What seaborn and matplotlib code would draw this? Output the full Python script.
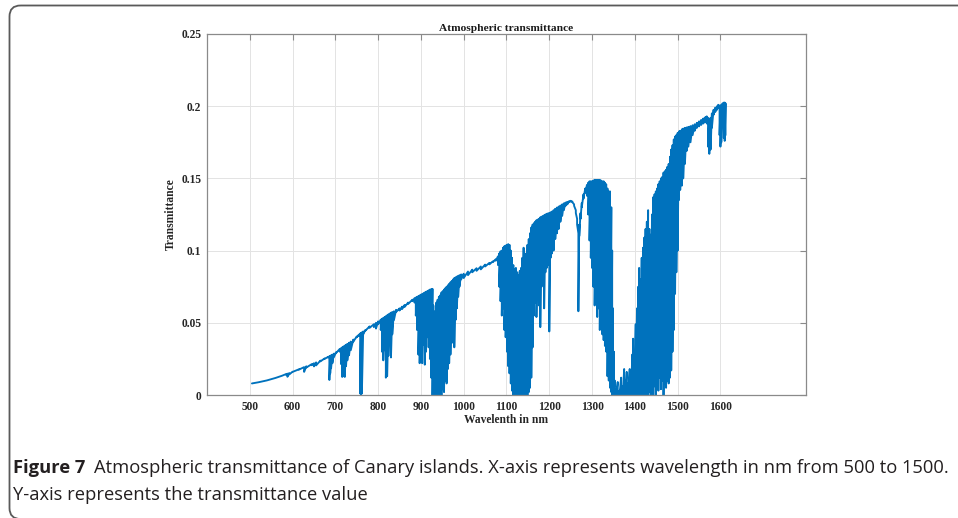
import numpy as np
import pandas as pd
import matplotlib
matplotlib.use("Agg")
import matplotlib.pyplot as plt
import seaborn as sns
from matplotlib.patches import FancyBboxPatch
from matplotlib import font_manager

# ---------------- data ----------------
# visible / near-IR part (continuum with O2 and H2O lines)
wl_vis = [505, 520, 540, 560, 575, 585, 588, 592, 600, 615, 627, 632, 645, 650, 655,
          665, 675, 683, 686, 688, 690, 693, 697, 702, 710, 713, 716, 719, 722, 725,
          728, 732, 736, 742, 750, 755, 758, 760, 762, 765, 770, 780, 790, 795, 800,
          806, 809, 812, 815, 818, 821, 824, 827, 830, 833, 837, 842, 850, 856, 862,
          870, 880]
hi_vis = [.0080, .0088, .0101, .0118, .0133, .0145, .0148, .0152, .0161, .0178, .0193, .0199, .0214, .0220, .0226,
          .0238, .0253, .0264, .0268, .0271, .0275, .0280, .0287, .0297, .0318, .0324, .0330, .0336, .0342, .0348,
          .0354, .0362, .0370, .0384, .0405, .0418, .0426, .0430, .0434, .0440, .0450, .0475, .0490, .0500, .0510,
          .0522, .0528, .0534, .0540, .0546, .0552, .0558, .0564, .0570, .0575, .0580, .0590, .0600, .0612, .0624,
          .0640, .0660]
lo_vis = [.0080, .0088, .0101, .0118, .0133, .0140, .0126, .0142, .0160, .0176, .0160, .0190, .0206, .0198, .0205,
          .0233, .0250, .0260, .0104, .0150, .0185, .0220, .0265, .0292, .0300, .0215, .0125, .0130, .0125, .0200,
          .0240, .0275, .0310, .0370, .0400, .0410, .0010, .0005, .0010, .0420, .0445, .0465, .0470, .0460, .0490,
          .0450, .0300, .0240, .0310, .0120, .0130, .0270, .0360, .0260, .0420, .0520, .0575, .0585, .0595, .0610,
          .0630, .0650]

# 940 nm water band and the continuum up to 1075 nm
wl_940 = [885, 888, 891, 894, 897, 900, 903, 906, 909, 912, 915, 918, 921, 924, 927,
          929, 931, 933, 936, 939, 942, 945, 948, 951, 954, 957, 960, 963, 966, 969,
          972, 975, 978, 981, 984, 987, 990, 994, 1000, 1010, 1020, 1030, 1040, 1050, 1060,
          1068, 1075]
hi_940 = [.0670, .0675, .0680, .0685, .0690, .0695, .0700, .0705, .0710, .0715, .0720, .0725, .0730, .0733, .0735,
          .0620, .0520, .0580, .0640, .0660, .0680, .0690, .0710, .0720, .0730, .0740, .0750, .0760, .0770, .0780,
          .0790, .0800, .0810, .0815, .0820, .0825, .0830, .0835, .0840, .0855, .0868, .0878, .0890, .0903, .0915,
          .0925, .0940]
lo_940 = [.0640, .0550, .0450, .0280, .0220, .0300, .0220, .0350, .0210, .0300, .0400, .0330, .0250, .0120, .0000,
          .0000, .0000, .0000, .0000, .0000, .0000, .0010, .0000, .0040, .0020, .0100, .0080, .0180, .0220, .0280,
          .0360, .0400, .0330, .0520, .0600, .0680, .0750, .0800, .0810, .0830, .0850, .0860, .0870, .0890, .0905,
          .0920, .0930]

# 1130 nm water band and the 1270 nm O2 line
wl_1130 = [1080, 1083, 1086, 1089, 1092, 1095, 1098, 1101, 1104, 1107, 1110, 1113, 1116, 1119, 1122,
           1125, 1128, 1131, 1134, 1137, 1140, 1143, 1146, 1149, 1152, 1155, 1158, 1161, 1164, 1167,
           1170, 1173, 1176, 1179, 1182, 1185, 1188, 1191, 1194, 1197, 1200, 1203, 1206, 1210, 1214,
           1218, 1222, 1226, 1230, 1234, 1238, 1242, 1246, 1250, 1254, 1258, 1262, 1265, 1268, 1270,
           1273, 1276, 1280, 1284, 1288]
hi_1130 = [.0960, .0980, .0995, .1000, .1020, .1030, .1035, .1040, .1045, .1040, .1000, .0950, .0900, .0870, .0880,
           .0850, .0830, .0860, .0880, .0950, .1020, .0940, .0980, .1040, .1080, .1120, .1160, .1180, .1190, .1200,
           .1210, .1215, .1220, .1230, .1235, .1240, .1245, .1250, .1255, .1258, .1260, .1265, .1270, .1280, .1290,
           .1298, .1305, .1312, .1320, .1327, .1333, .1338, .1342, .1345, .1340, .1320, .1280, .1220, .1120, .1180,
           .1260, .1330, .1390, .1430, .1455]
lo_1130 = [.0900, .0750, .0650, .0550, .0600, .0450, .0400, .0300, .0200, .0150, .0080, .0030, .0000, .0000, .0000,
           .0000, .0000, .0000, .0000, .0000, .0000, .0000, .0000, .0000, .0020, .0050, .0120, .0330, .0550, .0640,
           .0540, .0700, .0620, .0470, .0750, .0820, .0600, .0850, .0880, .0900, .0440, .0950, .0980, .1000, .1080,
           .1120, .1150, .1200, .1240, .1280, .1310, .1320, .1335, .1340, .1335, .1310, .1260, .1180, .0580, .1100,
           .1220, .1300, .1360, .1400, .1380]

# 1400 nm water band and the end of the spectrum
wl_1400 = [1291, 1294, 1297, 1300, 1303, 1306, 1309, 1312, 1315, 1318, 1321, 1324, 1327, 1330, 1333,
           1336, 1339, 1342, 1345, 1347, 1349, 1351, 1353, 1356, 1360, 1364, 1368, 1372, 1375, 1378,
           1381, 1384, 1388, 1391, 1394, 1396, 1399, 1402, 1405, 1408, 1410, 1413, 1416, 1419, 1422,
           1425, 1428, 1431, 1434, 1437, 1440, 1443, 1446, 1449, 1452, 1455, 1458, 1461, 1464, 1467,
           1470, 1473, 1476, 1479, 1482, 1485, 1488, 1491, 1494, 1497, 1500, 1503, 1506, 1510, 1513,
           1517, 1521, 1525, 1530, 1535, 1540, 1545, 1550, 1555, 1560, 1565, 1568, 1571, 1574, 1577,
           1580, 1584, 1588, 1592, 1595, 1598, 1600, 1602, 1605, 1608, 1610, 1612]
hi_1400 = [.1470, .1480, .1480, .1480, .1485, .1490, .1490, .1490, .1490, .1490, .1485, .1480, .1480, .1470, .1460,
           .1430, .1410, .1410, .1300, .1000, .0600, .0300, .0100, .0040, .0090, .0030, .0120, .0060, .0180, .0100,
           .0160, .0080, .0180, .0120, .0280, .0390, .0250, .0490, .0600, .0750, .0880, .0800, .0950, .1020, .1090,
           .1150, .1200, .1280, .1150, .1110, .1250, .1370, .1390, .1410, .1430, .1460, .1480, .1500, .1510, .1540,
           .1550, .1560, .1580, .1600, .1650, .1700, .1730, .1770, .1790, .1800, .1815, .1825, .1830, .1840, .1845,
           .1850, .1853, .1857, .1862, .1868, .1875, .1885, .1895, .1905, .1915, .1925, .1930, .1920, .1910, .1920,
           .1950, .1975, .1990, .2000, .2010, .2005, .2000, .2010, .2020, .2025, .2025, .2020]
lo_1400 = [.1250, .1070, .0950, .0880, .0750, .0620, .0780, .0540, .0600, .0450, .0500, .0420, .0380, .0340, .0300,
           .0130, .0100, .0050, .0020, .0000, .0000, .0000, .0000, .0000, .0000, .0000, .0000, .0000, .0000, .0000,
           .0000, .0000, .0000, .0000, .0000, .0000, .0000, .0000, .0000, .0000, .0000, .0000, .0000, .0000, .0000,
           .0000, .0000, .0000, .0020, .0000, .0040, .0000, .0060, .0000, .0080, .0030, .0120, .0040, .0100, .0000,
           .0080, .0050, .0100, .0080, .0120, .0170, .0300, .0450, .0700, .0850, .1000, .1350, .1420, .1450, .1500,
           .1600, .1690, .1720, .1750, .1800, .1830, .1850, .1860, .1870, .1880, .1890, .1880, .1720, .1670, .1700,
           .1850, .1940, .1960, .1975, .1990, .1800, .1720, .1750, .1900, .1780, .1760, .1800]

x_ticks = [500, 600, 700, 800, 900, 1000, 1100, 1200, 1300, 1400, 1500, 1600]
x_tick_labels = ["500", "600", "700", "800", "900", "1000", "1100", "1200", "1300", "1400", "1500", "1600"]
y_ticks = [0, 0.05, 0.1, 0.15, 0.2, 0.25]
y_tick_labels = ["0", "0.05", "0.1", "0.15", "0.2", "0.25"]

title_text = "Atmospheric transmittance"
x_label = "Wavelenth in nm"
y_label = "Transmittance"
caption_bold = "Figure 7"
caption_line1 = "Atmospheric transmittance of Canary islands. X-axis represents wavelength in nm from 500 to 1500."
caption_line2 = "Y-axis represents the transmittance value"

# ---------------- build the trace (each sample: upper then lower value) ----------------
wl = np.array(wl_vis + wl_940 + wl_1130 + wl_1400, dtype=float)
hi = np.array(hi_vis + hi_940 + hi_1130 + hi_1400)
lo = np.array(lo_vis + lo_940 + lo_1130 + lo_1400)
df = pd.DataFrame({"Wavelength": np.repeat(wl, 2),
                   "Transmittance": np.column_stack([hi, lo]).ravel()})

# ---------------- figure ----------------
sns.set_theme(style="white")
plt.rcParams["font.family"] = ["Liberation Serif", "DejaVu Serif"]

W, H = 958, 518
fig = plt.figure(figsize=(W / 100, H / 100), dpi=100)
fig.patch.set_facecolor("white")

# rounded border of the figure panel, drawn in pixel coordinates
bg = fig.add_axes([0, 0, 1, 1])
bg.set_xlim(0, W)
bg.set_ylim(H, 0)
bg.axis("off")
bg.add_patch(FancyBboxPatch((9.5, 5.5), 1100, 513.5,
                            boxstyle="round,pad=0,rounding_size=11",
                            fill=False, edgecolor="#5a5a5a", linewidth=1.3, clip_on=True))

ax_l, ax_r, ax_t, ax_b = 207, 806, 34, 395
ax = fig.add_axes([ax_l / W, 1 - ax_b / H, (ax_r - ax_l) / W, (ax_b - ax_t) / H])

sns.lineplot(data=df, x="Wavelength", y="Transmittance", sort=False, estimator=None,
             color="#0072BD", linewidth=1.35, ax=ax)

ax.set_xlim(400, 1800)
ax.set_ylim(0, 0.25)
ax.set_xticks(x_ticks)
ax.set_xticklabels(x_tick_labels)
ax.set_yticks(y_ticks)
ax.set_yticklabels(y_tick_labels)
ax.grid(True, color="#e3e3e3", linewidth=0.7)
ax.set_axisbelow(True)
for s in ax.spines.values():
    s.set_color("#8a8a8a")
    s.set_linewidth(0.9)
ax.tick_params(direction="in", length=4, width=0.8, color="#8a8a8a",
               top=True, right=True, labelsize=8.3, labelcolor="#262626", pad=4)
for lab in ax.get_xticklabels() + ax.get_yticklabels():
    lab.set_fontweight("bold")

ax.set_title(title_text, fontsize=8.2, fontweight="bold", color="#1a1a1a", pad=2)
ax.set_xlabel(x_label, fontsize=8.3, fontweight="bold", color="#262626", labelpad=1)
ax.set_ylabel(y_label, fontsize=8.3, fontweight="bold", color="#262626", labelpad=3)

# ---------------- caption ----------------
renderer = fig.canvas.get_renderer()
installed = {f.name for f in font_manager.fontManager.ttflist}
cap_font = [f for f in ["Liberation Sans Narrow", "Open Sans"] if f in installed] + ["DejaVu Sans"]
gap_px = 9
left_px = 13
target_right = 951
fs = 12.0
t_bold = fig.text(left_px / W, 1 - 473 / H, caption_bold, fontsize=fs, fontweight="bold",
                  family=cap_font, color="#231f20", va="baseline")
t1 = fig.text(0, 1 - 473 / H, caption_line1, fontsize=fs,
              family=cap_font, color="#231f20", va="baseline")
for _ in range(4):
    t_bold.set_fontsize(fs)
    t1.set_fontsize(fs)
    bb = t_bold.get_window_extent(renderer)
    t1.set_x((bb.x1 + gap_px) / W)
    bb1 = t1.get_window_extent(renderer)
    total = bb1.x1 - left_px
    fs = fs * (target_right - left_px) / total
t_bold.set_fontsize(fs)
t1.set_fontsize(fs)
bb = t_bold.get_window_extent(renderer)
t1.set_x((bb.x1 + gap_px) / W)
fig.text(left_px / W, 1 - 500 / H, caption_line2, fontsize=fs, family=cap_font,
         color="#231f20", va="baseline")

fig.savefig("out.png", dpi=100, facecolor="white")
